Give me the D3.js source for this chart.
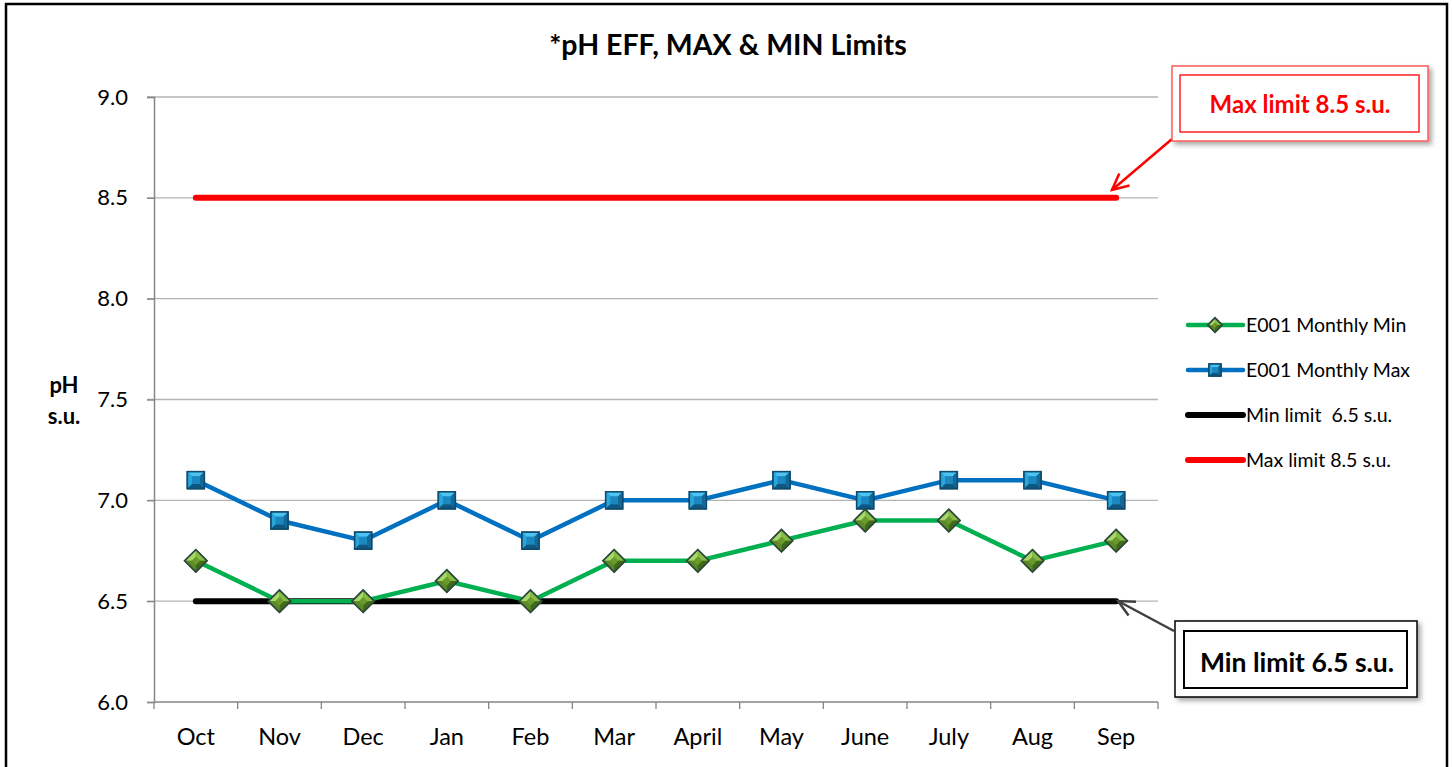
<!DOCTYPE html>
<html>
<head>
<meta charset="utf-8">
<script src="https://cdn.jsdelivr.net/npm/d3@7"></script>
<style>
  body { margin: 0; background: #fff; }
  text { font-family: Lato, "Open Sans", sans-serif; }
</style>
</head>
<body>
<div id="d3chart"></div>
<script>
// chart values
const months = ['Oct', 'Nov', 'Dec', 'Jan', 'Feb', 'Mar', 'April', 'May', 'June', 'July', 'Aug', 'Sep']
const monthlyMin = [6.7, 6.5, 6.5, 6.6, 6.5, 6.7, 6.7, 6.8, 6.9, 6.9, 6.7, 6.8]
const monthlyMax = [7.1, 6.9, 6.8, 7.0, 6.8, 7.0, 7.0, 7.1, 7.0, 7.1, 7.1, 7.0]
const minLimit = months.map(() => 6.5)
const maxLimit = months.map(() => 8.5)
const yTicks = [6.0, 6.5, 7.0, 7.5, 8.0, 8.5, 9.0]
const legendLabels = ['E001 Monthly Min', 'E001 Monthly Max', 'Min limit  6.5 s.u.', 'Max limit 8.5 s.u.']

const width = 1453
const height = 767
const margin = { top: 97, right: 295, bottom: 65, left: 154 }

const svg = d3.select('#d3chart').append('svg')
  .attr('width', width)
  .attr('height', height)

const defs = svg.append('defs')
const shadow = defs.append('filter').attr('id', 'shadow')
  .attr('x', '-10%').attr('y', '-10%').attr('width', '130%').attr('height', '140%')
shadow.append('feDropShadow')
  .attr('dx', 3).attr('dy', 3).attr('stdDeviation', 2.5)
  .attr('flood-color', '#000').attr('flood-opacity', 0.35)

// outer frame
svg.append('rect')
  .attr('x', 6).attr('y', 4)
  .attr('width', 1441).attr('height', 800)
  .attr('fill', 'none').attr('stroke', '#000').attr('stroke-width', 2.5)

// scales
const x = d3.scaleBand().domain(months).range([margin.left, width - margin.right])
const y = d3.scaleLinear().domain([6, 9]).range([height - margin.bottom, margin.top])
const cx = m => x(m) + x.bandwidth() / 2

// gridlines
svg.append('g').selectAll('line').data(yTicks.slice(1)).join('line')
  .attr('x1', margin.left - 7).attr('x2', width - margin.right)
  .attr('y1', d => y(d)).attr('y2', d => y(d))
  .attr('stroke', '#b3b3b3').attr('stroke-width', 1.3)

// y axis
const yAxis = svg.append('g')
  .attr('transform', `translate(${margin.left},0)`)
  .call(d3.axisLeft(y).tickValues(yTicks).tickFormat(d3.format('.1f')).tickSize(7).tickPadding(19))
yAxis.select('.domain').attr('stroke', '#868686').attr('stroke-width', 1.5)
yAxis.selectAll('.tick line').attr('stroke', '#868686').attr('stroke-width', 1.3)
yAxis.selectAll('.tick text').attr('font-size', 22).attr('fill', '#000')
  .style('font-family', 'Lato, sans-serif')

// x axis: ticks at category boundaries
const xAxisG = svg.append('g').attr('transform', `translate(0,${y(6)})`)
xAxisG.append('line')
  .attr('x1', margin.left).attr('x2', width - margin.right)
  .attr('stroke', '#868686').attr('stroke-width', 1.5)
xAxisG.selectAll('.bt').data(months.concat(['end'])).join('line')
  .attr('class', 'bt')
  .attr('x1', (d, i) => i < months.length ? x(d) : x(months[months.length - 1]) + x.bandwidth())
  .attr('x2', (d, i) => i < months.length ? x(d) : x(months[months.length - 1]) + x.bandwidth())
  .attr('y1', 0).attr('y2', 7)
  .attr('stroke', '#868686').attr('stroke-width', 1.3)
xAxisG.selectAll('text').data(months).join('text')
  .attr('x', d => cx(d)).attr('y', 43)
  .attr('text-anchor', 'middle')
  .attr('font-size', 23.5).attr('fill', '#000')
  .text(d => d)

// limit lines
const line = d3.line().x((d, i) => cx(months[i])).y(d => y(d))
svg.append('path').datum(maxLimit).attr('d', line)
  .attr('fill', 'none').attr('stroke', '#ff0000').attr('stroke-width', 6).attr('stroke-linecap', 'round')
svg.append('path').datum(minLimit).attr('d', line)
  .attr('fill', 'none').attr('stroke', '#000').attr('stroke-width', 6).attr('stroke-linecap', 'round')

// series lines
svg.append('path').datum(monthlyMax).attr('d', line)
  .attr('fill', 'none').attr('stroke', '#0070c0').attr('stroke-width', 4.5).attr('stroke-linejoin', 'round')
svg.append('path').datum(monthlyMin).attr('d', line)
  .attr('fill', 'none').attr('stroke', '#00b050').attr('stroke-width', 4.5).attr('stroke-linejoin', 'round')

// beveled marker helpers
function squareMarker (g, r) {
  g.append('rect').attr('x', -r).attr('y', -r).attr('width', 2 * r).attr('height', 2 * r)
    .attr('fill', '#1f8ec6').attr('stroke', '#0d4a6b').attr('stroke-width', 1.5)
  const i = r * 0.45
  g.append('path').attr('d', `M${-r},${-r}L${r},${-r}L${i},${-i}L${-i},${-i}Z`).attr('fill', '#4cc3f0')
  g.append('path').attr('d', `M${-r},${-r}L${-i},${-i}L${-i},${i}L${-r},${r}Z`).attr('fill', '#2aa6dc')
  g.append('path').attr('d', `M${r},${-r}L${r},${r}L${i},${i}L${i},${-i}Z`).attr('fill', '#136a9a')
  g.append('path').attr('d', `M${-r},${r}L${r},${r}L${i},${i}L${-i},${i}Z`).attr('fill', '#0f5780')
  g.append('rect').attr('x', -i).attr('y', -i).attr('width', 2 * i).attr('height', 2 * i).attr('fill', '#1b88c0')
  g.append('rect').attr('x', -r).attr('y', -r).attr('width', 2 * r).attr('height', 2 * r)
    .attr('fill', 'none').attr('stroke', '#0d4a6b').attr('stroke-width', 1.5)
}
function diamondMarker (g, r) {
  const i = r * 0.4
  g.append('path').attr('d', `M0,${-r}L${r},0L0,${r}L${-r},0Z`)
    .attr('fill', '#6a9a2c').attr('stroke', '#2e4a3a').attr('stroke-width', 2)
  g.append('path').attr('d', `M0,${-r}L${-r},0L${-i},0L0,${-i}Z`).attr('fill', '#a6d86a')
  g.append('path').attr('d', `M0,${-r}L${r},0L${i},0L0,${-i}Z`).attr('fill', '#86bb45')
  g.append('path').attr('d', `M${-r},0L0,${r}L0,${i}L${-i},0Z`).attr('fill', '#5b8a26')
  g.append('path').attr('d', `M${r},0L0,${r}L0,${i}L${i},0Z`).attr('fill', '#3f6a1a')
  g.append('path').attr('d', `M0,${-r}L${r},0L0,${r}L${-r},0Z`)
    .attr('fill', 'none').attr('stroke', '#2e4a3a').attr('stroke-width', 1.5)
}

svg.append('g').selectAll('g').data(monthlyMax).join('g')
  .attr('transform', (d, i) => `translate(${cx(months[i])},${y(d)})`)
  .each(function () { squareMarker(d3.select(this), 8.5) })
svg.append('g').selectAll('g').data(monthlyMin).join('g')
  .attr('transform', (d, i) => `translate(${cx(months[i])},${y(d)})`)
  .each(function () { diamondMarker(d3.select(this), 11) })

// title
svg.append('text')
  .attr('x', 728).attr('y', 55)
  .attr('text-anchor', 'middle')
  .attr('font-size', 28.5).attr('font-weight', 'bold')
  .text('*pH EFF, MAX & MIN Limits')

// y label
svg.append('text').attr('x', 64).attr('y', 393).attr('text-anchor', 'middle')
  .attr('font-size', 22).attr('font-weight', 'bold').text('pH')
svg.append('text').attr('x', 64).attr('y', 424).attr('text-anchor', 'middle')
  .attr('font-size', 22).attr('font-weight', 'bold').text('s.u.')

// legend
const legendColors = ['#00b050', '#0070c0', '#000', '#ff0000']
const legendWidths = [4.5, 4.5, 6, 6]
const legend = svg.append('g')
legendLabels.forEach((label, i) => {
  const ly = 325 + i * 45
  const row = legend.append('g').attr('transform', `translate(0,${ly})`)
  row.append('line').attr('x1', 1188).attr('x2', 1243)
    .attr('stroke', legendColors[i]).attr('stroke-width', legendWidths[i]).attr('stroke-linecap', 'round')
  if (i === 0) diamondMarker(row.append('g').attr('transform', 'translate(1215,0)'), 7)
  if (i === 1) squareMarker(row.append('g').attr('transform', 'translate(1215,0)'), 6)
  row.append('text').attr('x', 1246).attr('y', 7)
    .style('white-space', 'pre')
    .attr('font-size', 19.5).attr('fill', '#000').text(label)
})

// callouts
function arrow (x1, y1, x2, y2, color) {
  const a = Math.atan2(y2 - y1, x2 - x1)
  const len = 18
  const spread = 0.45
  svg.append('line').attr('x1', x1).attr('y1', y1).attr('x2', x2).attr('y2', y2)
    .attr('stroke', color).attr('stroke-width', 2.5)
  svg.append('path')
    .attr('d', `M${x2 - len * Math.cos(a - spread)},${y2 - len * Math.sin(a - spread)}L${x2},${y2}L${x2 - len * Math.cos(a + spread)},${y2 - len * Math.sin(a + spread)}`)
    .attr('fill', 'none').attr('stroke', color).attr('stroke-width', 2.5).attr('stroke-linejoin', 'miter')
}

arrow(1172, 139, 1112, 190, '#ff0000')
const maxBox = svg.append('g')
maxBox.append('rect').attr('x', 1172).attr('y', 66).attr('width', 256).attr('height', 75)
  .attr('fill', '#fff').attr('stroke', '#ff5b5b').attr('stroke-width', 1.5).attr('filter', 'url(#shadow)')
maxBox.append('rect').attr('x', 1180).attr('y', 75).attr('width', 239).attr('height', 57)
  .attr('fill', 'none').attr('stroke', '#ff2020').attr('stroke-width', 1.5)
maxBox.append('text').attr('x', 1300).attr('y', 113).attr('text-anchor', 'middle')
  .attr('font-size', 24).attr('font-weight', 'bold').attr('fill', '#ff0000').text('Max limit 8.5 s.u.')

arrow(1174, 631, 1118, 601, '#404040')
const minBox = svg.append('g')
minBox.append('rect').attr('x', 1175).attr('y', 621).attr('width', 242).attr('height', 76)
  .attr('fill', '#fff').attr('stroke', '#000').attr('stroke-width', 1.5).attr('filter', 'url(#shadow)')
minBox.append('rect').attr('x', 1184).attr('y', 631).attr('width', 223).attr('height', 57)
  .attr('fill', 'none').attr('stroke', '#000').attr('stroke-width', 2)
minBox.append('text').attr('x', 1297).attr('y', 672).attr('text-anchor', 'middle')
  .attr('font-size', 26.5).attr('font-weight', 'bold').attr('fill', '#000').text('Min limit 6.5 s.u.')
</script>
</body>
</html>
